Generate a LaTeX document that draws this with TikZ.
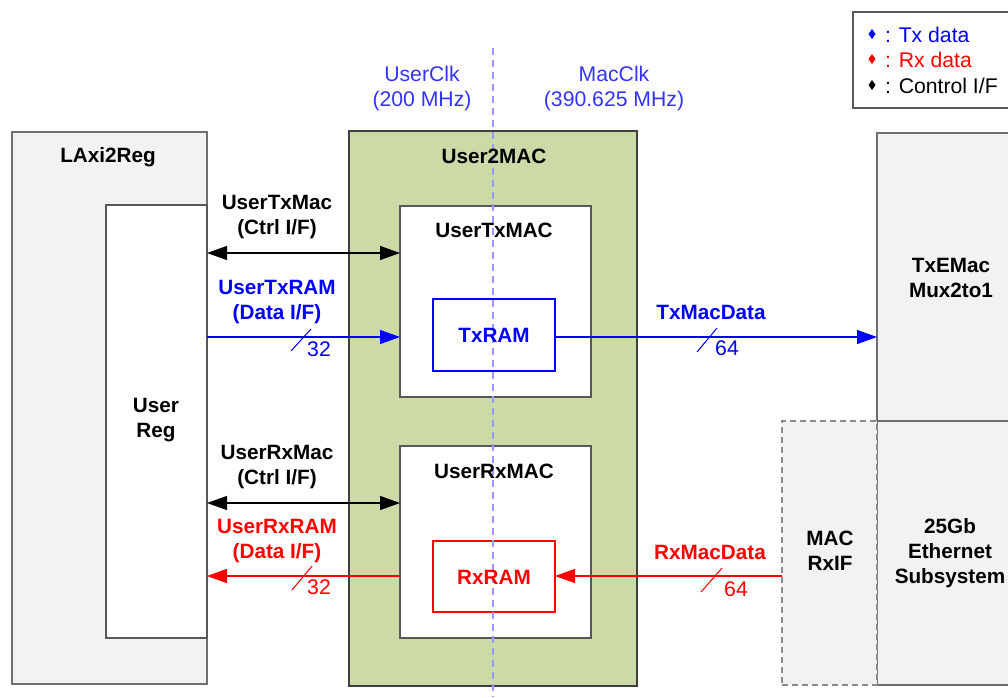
\documentclass[tikz,border=0pt]{standalone}
\usepackage{fontspec}
\setmainfont{Liberation Sans}
\usetikzlibrary{arrows.meta,calc}
\definecolor{gfill}{HTML}{F2F2F2}
\definecolor{gline}{HTML}{6E6E6E}
\definecolor{ugreen}{HTML}{CCDAA8}
\definecolor{tblue}{HTML}{0000FF}
\definecolor{clkblue}{HTML}{3333FF}
\definecolor{dashblue}{HTML}{9999FF}
\definecolor{rred}{HTML}{FF0000}
\begin{document}
\begin{tikzpicture}[x=1pt,y=-1pt,
  every node/.style={font=\fontsize{20.7}{25}\selectfont, inner sep=0pt, outer sep=0pt},
  greybox/.style={draw=gline, fill=gfill, line width=1.3pt, anchor=north west},
  whitebox/.style={draw=gline!80!black, fill=white, line width=1.3pt, anchor=north west},
  greenbox/.style={draw=black!75, fill=ugreen, line width=1.3pt, anchor=north west},
  dashbox/.style={draw=gline!80, fill=gfill, line width=1.3pt, dash pattern=on 6pt off 4pt, anchor=north west},
  title/.style={font=\fontsize{20.7}{25}\selectfont\bfseries, align=center},
  lbl/.style={font=\fontsize{20.7}{25}\selectfont\bfseries, align=center},
  num/.style={font=\fontsize{21.2}{25}\selectfont},
  ctrlarrow/.style={draw=black, line width=1.2pt, {Triangle[length=20pt,width=14pt]}-{Triangle[length=20pt,width=14pt]}},
  txarrow/.style={draw=tblue, line width=1.2pt, -{Triangle[length=20pt,width=14pt]}},
  rxarrow/.style={draw=rred, line width=1.2pt, -{Triangle[length=20pt,width=14pt]}},
  slash/.style={line width=1pt},
]
\useasboundingbox (0,0) rectangle (1008,697);

% left blocks
\node[greybox, minimum width=195pt, minimum height=552pt] (laxi) at (12,132) {};
\node[whitebox, minimum width=101pt, minimum height=433pt] (ureg) at (106,205) {};

% User2MAC
\node[greenbox, minimum width=288pt, minimum height=555pt] (u2m) at (349,131) {};
\node[whitebox, minimum width=191pt, minimum height=191pt] (txmac) at (400,206) {};
\node[whitebox, minimum width=191pt, minimum height=192pt] (rxmac) at (400,446) {};
\node[draw=tblue, fill=white, line width=1.2pt, anchor=north west, minimum width=122pt, minimum height=72pt] (txram) at (433,299) {};
\node[draw=rred, fill=white, line width=1.2pt, anchor=north west, minimum width=122pt, minimum height=71pt] (rxram) at (433,541) {};

% right blocks
\node[greybox, minimum width=140pt, minimum height=289pt] (mux) at (877,133) {};
\node[greybox, minimum width=140pt, minimum height=264pt] (eth) at (877,421) {};
\node[dashbox, minimum width=95pt, minimum height=264pt] (rxif) at (782,421) {};

% legend
\node[draw=gline!80!black, fill=white, line width=1.2pt, anchor=north west, minimum width=170pt, minimum height=96pt] (legend) at (853,12) {};

% connector rows
\coordinate (yctx) at (0,253);
\coordinate (ytx) at (0,337);
\coordinate (ycrx) at (0,503);
\coordinate (yrx) at (0,576);

\draw[ctrlarrow] (ureg.east |- yctx) -- (txmac.west |- yctx);
\draw[ctrlarrow] (ureg.east |- ycrx) -- (rxmac.west |- ycrx);
\draw[txarrow] (ureg.east |- ytx) -- (txmac.west |- ytx);
\draw[txarrow] (txram.east |- ytx) -- (mux.west |- ytx);
\draw[rxarrow] (rxmac.west |- yrx) -- (ureg.east |- yrx);
\draw[rxarrow] (rxif.west |- yrx) -- (rxram.east |- yrx);

% bus slashes
\draw[slash, tblue] (291,351) -- (311,329);
\draw[slash, tblue] (697,352) -- (717,328);
\draw[slash, rred] (292,590) -- (312,566);
\draw[slash, rred] (701,592) -- (722,568);
\node[num, text=tblue] (n32a) at (319,349) {32};
\node[num, text=tblue] (n64a) at (727,348) {64};
\node[num, text=rred] (n32b) at (319,587) {32};
\node[num, text=rred] (n64b) at (736,589) {64};

% clock domain line
\coordinate (clktop) at (493,48);
\coordinate (clkbot) at (493,697);
\draw[dashblue, line width=1.1pt, dash pattern=on 7pt off 5pt] (clktop) -- (clkbot);

% titles
\node[title] (tlaxi) at (108,157) {LAxi2Reg};
\node[title] (tureg) at (156,420) {User\\Reg};
\node[title] (tu2m) at (494,156) {User2MAC};
\node[title] (ttxmac) at (494,230) {UserTxMAC};
\node[title] (trxmac) at (494,471) {UserRxMAC};
\node[title, text=tblue] (ttxram) at (494,335) {TxRAM};
\node[title, text=rred] (trxram) at (494,577) {RxRAM};
\node[title] (tmux) at (951,278) {TxEMac\\Mux2to1};
\node[title] (teth) at (950,553) {25Gb\\Ethernet\\Subsystem};
\node[title] (trxif) at (830,551) {MAC\\RxIF};

% connector labels
\node[lbl] (lctx) at (277,217) {UserTxMac\\(Ctrl I/F)};
\node[lbl, text=tblue] (ltx) at (277,302) {UserTxRAM\\(Data I/F)};
\node[lbl] (lcrx) at (277,467) {UserRxMac\\(Ctrl I/F)};
\node[lbl, text=rred] (lrx) at (277,541) {UserRxRAM\\(Data I/F)};
\node[lbl, text=tblue] (ltxd) at (711,312) {TxMacData};
\node[lbl, text=rred] (lrxd) at (710,552) {RxMacData};

% clock labels
\node[num, text=clkblue, align=center] (uclk) at (422,89) {UserClk\\(200 MHz)};
\node[num, text=clkblue, align=center] (mclk) at (614,89) {MacClk\\(390.625 MHz)};

% legend entries
\fill[tblue] (872,29) -- (875.5,34) -- (872,39) -- (868.5,34) -- cycle;
\fill[rred] (872,54) -- (875.5,59) -- (872,64) -- (868.5,59) -- cycle;
\fill[black] (872,80) -- (875.5,85) -- (872,90) -- (868.5,85) -- cycle;
\node[num, text=tblue, anchor=west] (lg1) at (885,35) {: Tx data};
\node[num, text=rred, anchor=west] (lg2) at (885,60) {: Rx data};
\node[num, text=black, anchor=west] (lg3) at (885,86) {: Control I/F};
\end{tikzpicture}
\end{document}
